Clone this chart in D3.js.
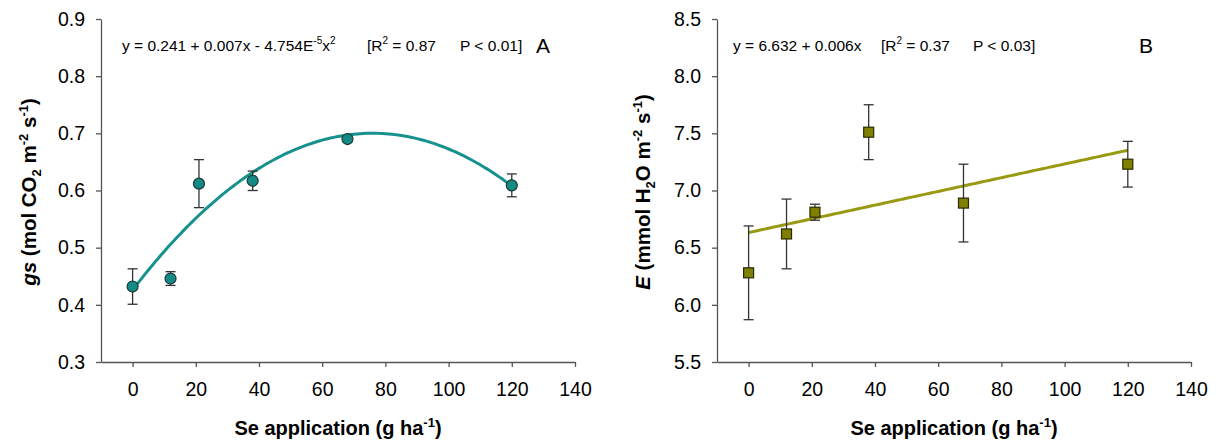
<!DOCTYPE html>
<html>
<head>
<meta charset="utf-8">
<script src="https://cdn.jsdelivr.net/npm/d3@7/dist/d3.min.js"></script>
<style>
  html, body { margin: 0; padding: 0; background: #fff; }
  svg { display: block; font-family: "Liberation Sans", Arial, sans-serif; }
</style>
</head>
<body>
<svg id="chart" width="1222" height="443"></svg>
<script>
// ---- Data ----
const doses = [0, 12, 21, 38, 68, 120];
const gsMean = [0.432, 0.446, 0.612, 0.617, 0.690, 0.609];
const gsErr  = [0.031, 0.012, 0.042, 0.017, 0.005, 0.020];
const eMean  = [6.28, 6.62, 6.81, 7.51, 6.89, 7.23];
const eErr   = [0.41, 0.305, 0.07, 0.24, 0.34, 0.20];
// regression coefficients (as drawn): a + b x + c x^2
const gsFit = [0.426, 0.00722, -4.754e-5];
const eFit  = [6.632, 0.006];
const xTicks = [0, 20, 40, 60, 80, 100, 120, 140];
const gsTicks = [0.3, 0.4, 0.5, 0.6, 0.7, 0.8, 0.9];
const eTicks = [5.5, 6.0, 6.5, 7.0, 7.5, 8.0, 8.5];

const svg = d3.select("#chart");
const FONT = "'Liberation Sans', Arial, sans-serif";

function panel(opts) {
  const g = svg.append("g");
  const x = d3.scaleLinear().domain([-10, 140]).range([opts.left, opts.right]);
  const y = d3.scaleLinear().domain(opts.yDomain).range([362, 19]);

  const xAxis = g.append("g").attr("transform", "translate(0,362)")
    .call(d3.axisBottom(x).tickValues(xTicks).tickSize(5).tickPadding(15).tickSizeOuter(0).tickFormat(d3.format("d")));
  const yAxis = g.append("g").attr("transform", `translate(${x(-10)},0)`)
    .call(d3.axisLeft(y).tickValues(opts.yTicks).tickSize(5).tickPadding(11).tickSizeOuter(0).tickFormat(d3.format(".1f")));
  [xAxis, yAxis].forEach(a => {
    a.select(".domain").attr("stroke", "#555").attr("stroke-width", 1.3);
    a.selectAll(".tick line").attr("stroke", "#555").attr("stroke-width", 1.3);
    a.selectAll(".tick text").attr("fill", "#000").style("font-size", "19.5px").style("font-family", FONT);
  });

  // fit line
  const pts = d3.range(0, 120.5, 1).map(v => [v, opts.fit(v)]);
  g.append("path").datum(pts)
    .attr("d", d3.line().x(d => x(d[0])).y(d => y(d[1])))
    .attr("fill", "none").attr("stroke", opts.lineColor).attr("stroke-width", 3);

  // error bars
  const eb = g.append("g").attr("stroke", "#333").attr("stroke-width", 1.3);
  doses.forEach((d, i) => {
    const m = opts.mean[i], e = opts.err[i];
    eb.append("line").attr("x1", x(d)).attr("x2", x(d)).attr("y1", y(m - e)).attr("y2", y(m + e));
    eb.append("line").attr("x1", x(d) - 5).attr("x2", x(d) + 5).attr("y1", y(m + e)).attr("y2", y(m + e));
    eb.append("line").attr("x1", x(d) - 5).attr("x2", x(d) + 5).attr("y1", y(m - e)).attr("y2", y(m - e));
  });

  // markers
  doses.forEach((d, i) => {
    if (opts.shape === "circle") {
      g.append("circle").attr("cx", x(d)).attr("cy", y(opts.mean[i])).attr("r", 5.5)
        .attr("fill", opts.markerColor).attr("stroke", "#1a3a38").attr("stroke-width", 1.2);
    } else {
      g.append("rect").attr("x", x(d) - 5).attr("y", y(opts.mean[i]) - 5).attr("width", 10).attr("height", 10)
        .attr("fill", opts.markerColor).attr("stroke", "#2a2a00").attr("stroke-width", 1.2);
    }
  });

  // x axis title
  const xt = g.append("text").attr("x", (opts.left + opts.right) / 2).attr("y", 435)
    .attr("text-anchor", "middle").style("font-size", "20px").style("font-weight", "bold").style("font-family", FONT);
  xt.append("tspan").text("Se application (g ha");
  xt.append("tspan").attr("dy", -8).style("font-size", "13px").text("-1");
  xt.append("tspan").attr("dy", 8).text(")");

  // y axis title
  const yt = g.append("text").attr("transform", `translate(${opts.yTitleX},192) rotate(-90)`)
    .attr("text-anchor", "middle").style("font-size", "20.5px").style("font-weight", "bold").style("font-family", FONT);
  opts.yTitle.forEach(p => {
    const t = yt.append("tspan").text(p.t);
    if (p.i) t.style("font-style", "italic");
    if (p.sub) t.attr("dy", 5).style("font-size", "13px");
    if (p.sup) t.attr("dy", -8).style("font-size", "13px");
    if (p.back) t.attr("dy", p.back);
  });

  // equation
  const eq = g.append("g").style("font-family", FONT).style("font-size", "15.5px");
  opts.eq.forEach(seg => {
    const t = eq.append("text").attr("x", seg.x).attr("y", 51);
    seg.parts.forEach(p => {
      const s = t.append("tspan").text(p.t);
      if (p.sup) s.attr("dy", -7).style("font-size", "10px");
      if (p.back) s.attr("dy", p.back);
    });
  });
  g.append("text").attr("x", opts.letterX).attr("y", 53).style("font-size", "21px").style("font-family", FONT).text(opts.letter);
}

panel({
  left: 101, right: 575, yDomain: [0.3, 0.9], yTicks: gsTicks,
  mean: gsMean, err: gsErr,
  fit: v => gsFit[0] + gsFit[1] * v + gsFit[2] * v * v,
  lineColor: "#16918d", markerColor: "#138a85", shape: "circle",
  yTitleX: 36,
  yTitle: [{t: "gs", i: true}, {t: " (mol CO"}, {t: "2", sub: true}, {t: " m", back: -5}, {t: "-2", sup: true}, {t: " s", back: 8}, {t: "-1", sup: true}, {t: ")", back: 8}],
  eq: [
    {x: 122, parts: [{t: "y = 0.241 + 0.007x - 4.754E"}, {t: "-5", sup: true}, {t: "x", back: 7}, {t: "2", sup: true}]},
    {x: 367, parts: [{t: "[R"}, {t: "2", sup: true}, {t: " = 0.87", back: 7}]},
    {x: 460, parts: [{t: "P < 0.01]"}]}
  ],
  letter: "A", letterX: 536
});

panel({
  left: 717, right: 1191, yDomain: [5.5, 8.5], yTicks: eTicks,
  mean: eMean, err: eErr,
  fit: v => eFit[0] + eFit[1] * v,
  lineColor: "#9a9a12", markerColor: "#7f7f00", shape: "square",
  yTitleX: 650,
  yTitle: [{t: "E", i: true}, {t: " (mmol H"}, {t: "2", sub: true}, {t: "O m", back: -5}, {t: "-2", sup: true}, {t: " s", back: 8}, {t: "-1", sup: true}, {t: ")", back: 8}],
  eq: [
    {x: 733, parts: [{t: "y = 6.632 + 0.006x"}]},
    {x: 881, parts: [{t: "[R"}, {t: "2", sup: true}, {t: " = 0.37", back: 7}]},
    {x: 973, parts: [{t: "P < 0.03]"}]}
  ],
  letter: "B", letterX: 1139
});
</script>
</body>
</html>
